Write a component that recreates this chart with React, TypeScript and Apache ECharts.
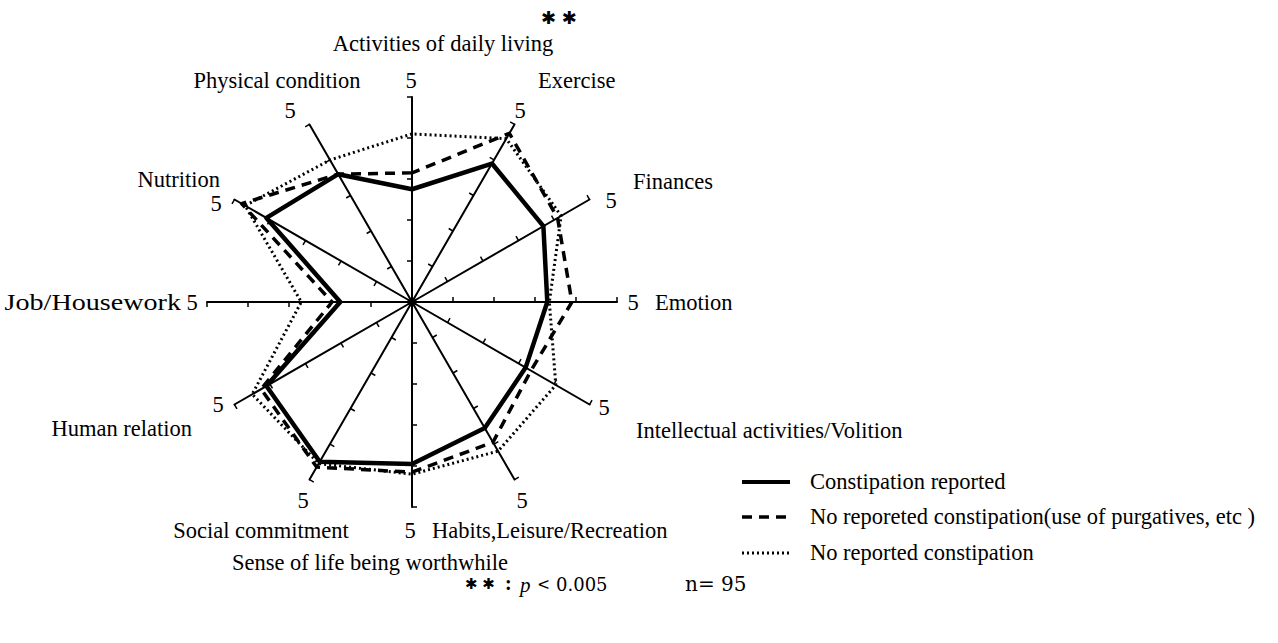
import React, { useEffect, useRef } from "react";
import * as echarts from "echarts";

// Axes in clockwise order, starting at the top
const axisNames = [
  "Activities of daily living",
  "Exercise",
  "Finances",
  "Emotion",
  "Intellectual activities/Volition",
  "Habits,Leisure/Recreation",
  "Sense of life being worthwhile",
  "Social commitment",
  "Human relation",
  "Job/Housework",
  "Nutrition",
  "Physical condition",
];
const axisMax = 5;

const seriesNames = [
  "Constipation reported",
  "No reporeted constipation(use of purgatives, etc )",
  "No reported constipation",
];
const constipationReported = [2.75, 3.9, 3.7, 3.3, 3.2, 3.55, 3.95, 4.5, 4.1, 1.75, 4.1, 3.6];
const noConstipationPurgatives = [3.15, 4.75, 4.1, 3.9, 3.35, 3.95, 4.15, 4.65, 4.25, 1.95, 4.8, 3.6];
const noConstipation = [4.1, 4.6, 4.2, 3.35, 4.05, 4.2, 4.2, 4.55, 4.5, 2.7, 4.7, 4.0];

// ECharts places radar indicators counter-clockwise; reorder so they read clockwise
const toCcw = <T,>(arr: T[]): T[] => [arr[0], ...arr.slice(1).reverse()];

const FONT = '"Liberation Serif", "Times New Roman", serif';
const FS = 22.5;

export default function App() {
  const ref = useRef<HTMLDivElement>(null);
  useEffect(() => {
    if (!ref.current) return;
    const chart = echarts.init(ref.current, null, { renderer: "svg" });

    const txt = (text: string, x: number, y: number, align = "center", size = FS, extra: any = {}) => ({
      type: "text",
      x,
      y,
      scaleX: extra.scaleX || 1,
      style: {
        text,
        font: `${extra.fontStyle || "normal"} ${extra.fontWeight || "normal"} ${size}px ${extra.family || FONT}`,
        fill: "#000",
        align,
        verticalAlign: "middle",
        textAlign: align,
        textVerticalAlign: "middle",
      },
    });

    const legendY = [482, 517, 553];
    const legendLines = [
      { lineWidth: 4, lineDash: null as any },
      { lineWidth: 3.5, lineDash: [10, 7] },
      { lineWidth: 3, lineDash: [2, 3] },
    ];

    const option: any = {
      animation: false,
      backgroundColor: "#fff",
      radar: {
        center: [412, 302],
        radius: 205,
        startAngle: 90,
        splitNumber: 5,
        shape: "polygon",
        indicator: toCcw(axisNames).map((name) => ({ name, min: 0, max: axisMax })),
        axisName: { show: false },
        axisLine: { lineStyle: { color: "#000", width: 2 } },
        axisTick: { show: true, length: 5, lineStyle: { color: "#000", width: 1.5 } },
        splitLine: { show: false },
        splitArea: { show: false },
        axisLabel: { show: false },
      },
      series: [
        {
          type: "radar",
          symbol: "none",
          data: [
            {
              name: seriesNames[2],
              value: toCcw(noConstipation),
              lineStyle: { color: "#000", width: 3, type: [2, 3] },
            },
            {
              name: seriesNames[1],
              value: toCcw(noConstipationPurgatives),
              lineStyle: { color: "#000", width: 3.5, type: [10, 7] },
            },
            {
              name: seriesNames[0],
              value: toCcw(constipationReported),
              lineStyle: { color: "#000", width: 4.5, type: "solid" },
            },
          ],
        },
      ],
      graphic: [
        // axis names
        txt(axisNames[0], 443, 43),
        txt(axisNames[1], 538, 80, "left"),
        txt(axisNames[2], 633, 181, "left"),
        txt(axisNames[3], 655, 302, "left"),
        txt(axisNames[4], 636, 430, "left"),
        txt(axisNames[5], 432, 530, "left"),
        txt(axisNames[6], 370, 562),
        txt(axisNames[7], 261, 530),
        txt(axisNames[8], 192, 428, "right"),
        txt(axisNames[9], 181, 302, "right", FS, { scaleX: 1.25 }),
        txt(axisNames[10], 220, 179, "right"),
        txt(axisNames[11], 277, 80),
        // "5" labels at axis ends
        txt("5", 411, 80),
        txt("5", 520, 110),
        txt("5", 611, 200),
        txt("5", 633, 302),
        txt("5", 604, 407),
        txt("5", 522, 500),
        txt("5", 410, 530),
        txt("5", 303, 500),
        txt("5", 218, 404),
        txt("5", 192, 302),
        txt("5", 216, 203),
        txt("5", 290, 110),
        // significance marks
        txt("✱ ✱", 559, 17, "center", 18, { family: '"DejaVu Sans"' }),
        txt("✱ ✱", 465, 584, "left", 15, { family: '"DejaVu Sans"' }),
        txt(":", 505, 583, "left", 20, { fontWeight: "bold" }),
        txt("p", 520, 585, "left", 21, { fontStyle: "italic" }),
        txt("<", 538, 583, "left", 20, { family: '"Noto Sans CJK JP"' }),
        txt("0.005", 556, 584, "left", 18, { family: '"DejaVu Serif"' }),
        txt("n= 95", 685, 584, "left", 20, { family: '"DejaVu Serif"' }),
        // legend
        ...legendLines.map((l, i) => ({
          type: "line",
          shape: { x1: 742, y1: legendY[i], x2: 790, y2: legendY[i] },
          style: { stroke: "#000", lineWidth: l.lineWidth, lineDash: l.lineDash },
        })),
        ...seriesNames.map((n, i) => txt(n, 810, legendY[i] - 1, "left")),
      ],
    };
    chart.setOption(option);
    return () => chart.dispose();
  }, []);
  return (
    <div
      ref={ref}
      style={{ position: "fixed", left: 0, top: 0, width: 1278, height: 643, background: "#fff" }}
    />
  );
}
